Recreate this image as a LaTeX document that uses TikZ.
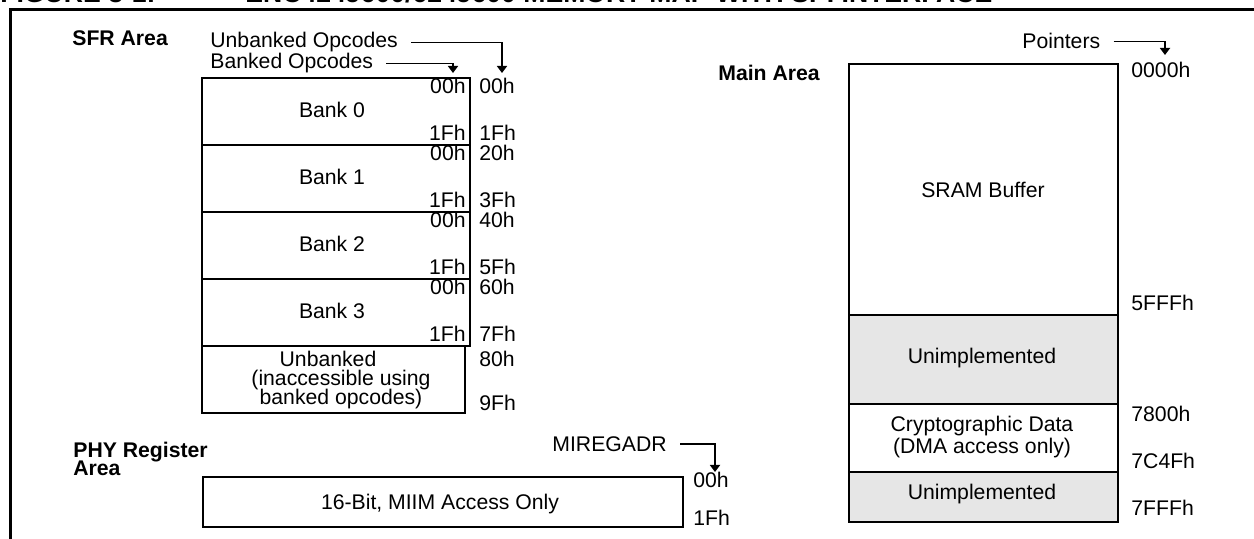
\documentclass[tikz,border=0pt]{standalone}
\usepackage{fontspec}
\setmainfont{Liberation Sans}
\usetikzlibrary{arrows.meta}
\definecolor{unimpl}{HTML}{E6E6E6}
\newcommand{\mapfont}{\fontsize{10.6}{10.5}\selectfont}
\newcommand{\tightlines}{\lineskiplimit=-5pt\relax}

\begin{document}
\begin{tikzpicture}[x=0.5pt, y=-0.5pt, every node/.style={inner sep=0pt, font=\mapfont},
  lbl/.style={anchor=base west},
  inadr/.style={anchor=base east},
  mid/.style={anchor=base},
  area/.style={font=\fontsize{10.6}{9.2}\selectfont\bfseries\tightlines},
  cell/.style={draw, line width=1.2pt},
  ptr/.style={line width=0.9pt, -{Triangle[length=3.5pt,width=5pt]}, shorten <=6.5pt}]
\useasboundingbox (0,0) rectangle (1254,539);

\coordinate (tipU) at (502,73);
\coordinate (tipB) at (453,73);
\coordinate (tipP) at (1165,55);
\coordinate (tipM) at (715,472);

% title and frame
\node[lbl, font=\fontsize{13.3}{14}\selectfont\bfseries] (fig) at (0,3) {FIGURE 3-1:};
\node[lbl, font=\fontsize{13.3}{14}\selectfont\bfseries] (title) at (245,3) {ENC424J600/624J600 MEMORY MAP WITH SPI INTERFACE};
\draw[line width=1.5pt] (1260,10) -- (10,10) -- (10,545);

% SFR area
\draw[cell] (202,78) rectangle (470,145);
\draw[cell] (202,145) rectangle (470,212);
\draw[cell] (202,212) rectangle (470,279);
\draw[cell] (202,279) rectangle (470,346);
\draw[cell] (202,346) rectangle (465,413);

\node[lbl, area] (sfr) at (72,46) {SFR Area};
\node[lbl] (unbop) at (210,48) {Unbanked Opcodes};
\node[lbl] (bankop) at (210,69) {Banked Opcodes};
\draw[ptr] (unbop.east) -| (tipU);
\draw[ptr] (bankop.east) -| (tipB);

\node[mid] (bank0) at (332,118) {Bank 0};
\node[inadr] (b0lo) at (466,93.5) {00h};
\node[inadr] (b0hi) at (466,141) {1Fh};
\node[lbl] (a00) at (479,93.5) {00h};
\node[lbl] (a1F) at (479,141) {1Fh};

\node[mid] (bank1) at (332,185) {Bank 1};
\node[inadr] (b1lo) at (466,160.5) {00h};
\node[inadr] (b1hi) at (466,208) {1Fh};
\node[lbl] (a20) at (479,160.5) {20h};
\node[lbl] (a3F) at (479,208) {3Fh};

\node[mid] (bank2) at (332,252) {Bank 2};
\node[inadr] (b2lo) at (466,227.5) {00h};
\node[inadr] (b2hi) at (466,275) {1Fh};
\node[lbl] (a40) at (479,227.5) {40h};
\node[lbl] (a5F) at (479,275) {5Fh};

\node[mid] (bank3) at (332,319) {Bank 3};
\node[inadr] (b3lo) at (466,294.5) {00h};
\node[inadr] (b3hi) at (466,342) {1Fh};
\node[lbl] (a60) at (479,294.5) {60h};
\node[lbl] (a7F) at (479,342) {7Fh};

\node[align=center, font=\fontsize{10.6}{9.5}\selectfont\tightlines] (unbank) at (341,380)
  {Unbanked\hspace*{13pt}\\(inaccessible using\\banked opcodes)};
\node[lbl] (a80) at (479,366.5) {80h};
\node[lbl] (a9F) at (479,411) {9Fh};

% PHY register area
\draw[cell] (203,477) rectangle (683,527);
\node[area, align=left, anchor=west] (phy) at (73,459) {PHY Register\\Area};
\node[lbl] (mireg) at (552,451.5) {MIREGADR};
\draw[ptr] (mireg.east) -| (tipM);
\node[mid] (miim) at (440,510) {16-Bit, MIIM Access Only};
\node[lbl] (p00) at (693,488) {00h};
\node[lbl] (p1F) at (693,526) {1Fh};

% main area
\draw[cell] (849,64) rectangle (1118,315);
\draw[cell, fill=unimpl] (849,315) rectangle (1118,404);
\draw[cell] (849,404) rectangle (1118,472);
\draw[cell, fill=unimpl] (849,472) rectangle (1118,522);

\node[lbl, area] (main) at (718,81) {Main Area};
\node[lbl] (ptrs) at (1022,49) {Pointers};
\draw[ptr] (ptrs.east) -| (tipP);
\node[mid] (sram) at (983,198) {SRAM Buffer};
\node[mid] (unimpA) at (982,364) {Unimplemented};
\node[align=center, font=\fontsize{10.6}{11}\selectfont] (crypto) at (982,437.5) {Cryptographic Data\\(DMA access only)};
\node[mid] (unimpB) at (982,500) {Unimplemented};
\node[lbl] (m0000) at (1131,78) {0000h};
\node[lbl] (m5FFF) at (1131,311) {5FFFh};
\node[lbl] (m7800) at (1131,421.5) {7800h};
\node[lbl] (m7C4F) at (1131,469) {7C4Fh};
\node[lbl] (m7FFF) at (1131,516) {7FFFh};
\end{tikzpicture}
\end{document}
